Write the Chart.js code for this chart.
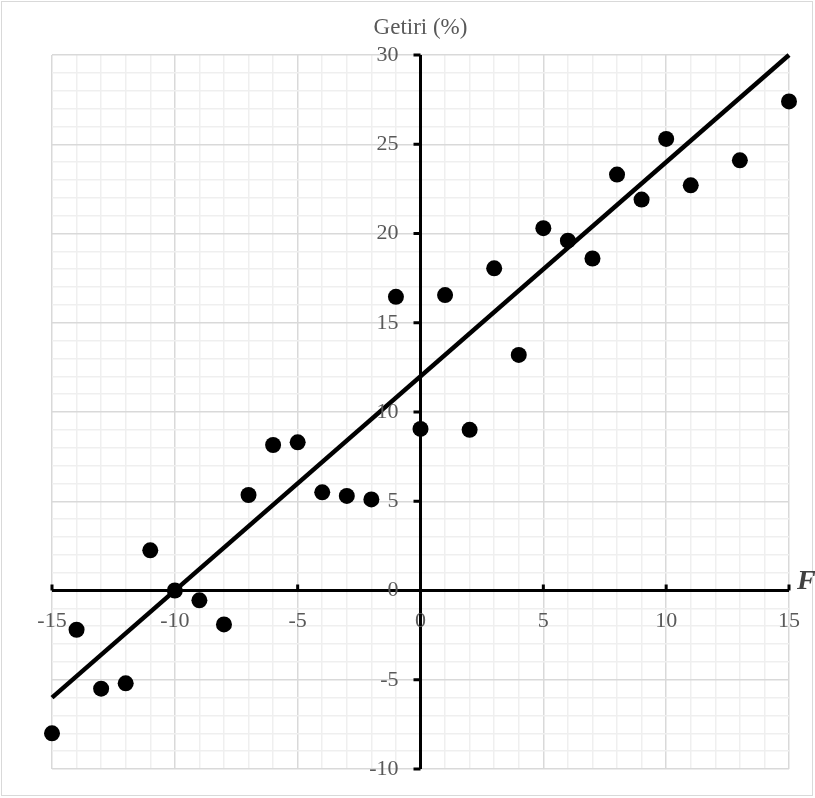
<!DOCTYPE html>
<html>
<head>
<meta charset="utf-8">
<script src="https://cdn.jsdelivr.net/npm/chart.js@4/dist/chart.umd.min.js"></script>
<style>
  html, body { margin: 0; padding: 0; background: #fff; }
  #wrap { position: relative; width: 815px; height: 798px; }
</style>
</head>
<body>
<div id="wrap"><canvas id="chart" width="815" height="798"></canvas></div>
<script>
// ============================================
// DATA
// ============================================
const fValues = [-15, -14, -13, -12, -11, -10, -9, -8, -7, -6, -5, -4, -3, -2, -1, 0, 1, 2, 3, 4, 5, 6, 7, 8, 9, 10, 11, 13, 15];
const getiri  = [-8, -2.2, -5.5, -5.2, 2.25, 0, -0.55, -1.9, 5.35, 8.15, 8.3, 5.5, 5.3, 5.1, 16.45, 9.05, 16.55, 9.0, 18.05, 13.2, 20.3, 19.6, 18.6, 23.3, 21.9, 25.3, 22.7, 24.1, 27.4];
const trendX  = [-15, 15];
const trendY  = [-6, 30];
const xTicks  = [-15, -10, -5, 0, 5, 10, 15];
const yTicks  = [-10, -5, 0, 5, 10, 15, 20, 25, 30];
const yTitle  = 'Getiri (%)';
const xTitle  = 'F';

const SERIF = '"Liberation Serif", "Times New Roman", serif';
const LABEL = '#595959';

// ============================================
// EIXOS NO ZERO + TEXTOS
// ============================================
const crossAxes = {
  id: 'crossAxes',
  beforeDraw(chart) {
    const c = chart.ctx;
    c.save();
    c.strokeStyle = '#d9d9d9';
    c.lineWidth = 1;
    c.strokeRect(1.5, 1.5, 811, 794);
    c.restore();
  },
  beforeDatasetsDraw(chart) {
    const c = chart.ctx;
    const sx = chart.scales.x, sy = chart.scales.y;
    const x0 = sx.getPixelForValue(0), y0 = sy.getPixelForValue(0);
    c.save();
    c.strokeStyle = '#000';
    c.lineWidth = 3;
    c.beginPath();
    c.moveTo(sx.getPixelForValue(xTicks[0]), y0);
    c.lineTo(sx.getPixelForValue(xTicks[xTicks.length - 1]), y0);
    xTicks.forEach(v => {
      const px = sx.getPixelForValue(v);
      c.moveTo(px, y0);
      c.lineTo(px, y0 - 6);
    });
    c.moveTo(x0, sy.getPixelForValue(yTicks[0]));
    c.lineTo(x0, sy.getPixelForValue(yTicks[yTicks.length - 1]));
    yTicks.forEach(v => {
      const py = sy.getPixelForValue(v);
      c.moveTo(x0 - 7, py);
      c.lineTo(x0, py);
    });
    c.stroke();
    c.restore();
  },
  afterDraw(chart) {
    const c = chart.ctx;
    const sx = chart.scales.x, sy = chart.scales.y;
    const x0 = sx.getPixelForValue(0), y0 = sy.getPixelForValue(0);
    c.save();
    c.fillStyle = LABEL;
    c.font = '22px ' + SERIF;
    c.textBaseline = 'middle';
    c.textAlign = 'center';
    xTicks.forEach(v => c.fillText(String(v), sx.getPixelForValue(v), y0 + 31));
    c.textAlign = 'right';
    yTicks.forEach(v => c.fillText(String(v), x0 - 22, sy.getPixelForValue(v)));
    c.textAlign = 'center';
    c.font = '23px ' + SERIF;
    c.fillText(yTitle, x0, 28);
    c.fillStyle = '#404040';
    c.font = 'italic bold 28px ' + SERIF;
    c.textAlign = 'left';
    c.textBaseline = 'alphabetic';
    c.fillText(xTitle, 797, 589);
    c.restore();
  }
};

const gridColor = ctx => (ctx.tick && ctx.tick.value % 5 === 0) ? '#d9d9d9' : '#efefef';

new Chart(document.getElementById('chart'), {
  type: 'scatter',
  data: {
    datasets: [
      {
        label: yTitle,
        data: fValues.map((x, i) => ({ x, y: getiri[i] })),
        backgroundColor: '#000',
        borderWidth: 0,
        pointRadius: 8,
        clip: false,
      },
      {
        type: 'line',
        label: 'trend',
        data: trendX.map((x, i) => ({ x, y: trendY[i] })),
        borderColor: '#000',
        borderWidth: 4.5,
        pointRadius: 0,
        fill: false,
        clip: false,
      },
    ],
  },
  options: {
    responsive: false,
    devicePixelRatio: 1,
    animation: false,
    layout: { padding: { left: 52, right: 26, top: 55, bottom: 29 } },
    plugins: { legend: { display: false }, tooltip: { enabled: false } },
    scales: {
      x: {
        type: 'linear',
        min: -15, max: 15,
        ticks: { display: false, stepSize: 1 },
        grid: { color: gridColor, drawTicks: false, lineWidth: 1.5 },
        border: { display: false },
      },
      y: {
        type: 'linear',
        min: -10, max: 30,
        ticks: { display: false, stepSize: 1 },
        grid: { color: gridColor, drawTicks: false, lineWidth: 1.5 },
        border: { display: false },
      },
    },
  },
  plugins: [crossAxes],
});
</script>
</body>
</html>
